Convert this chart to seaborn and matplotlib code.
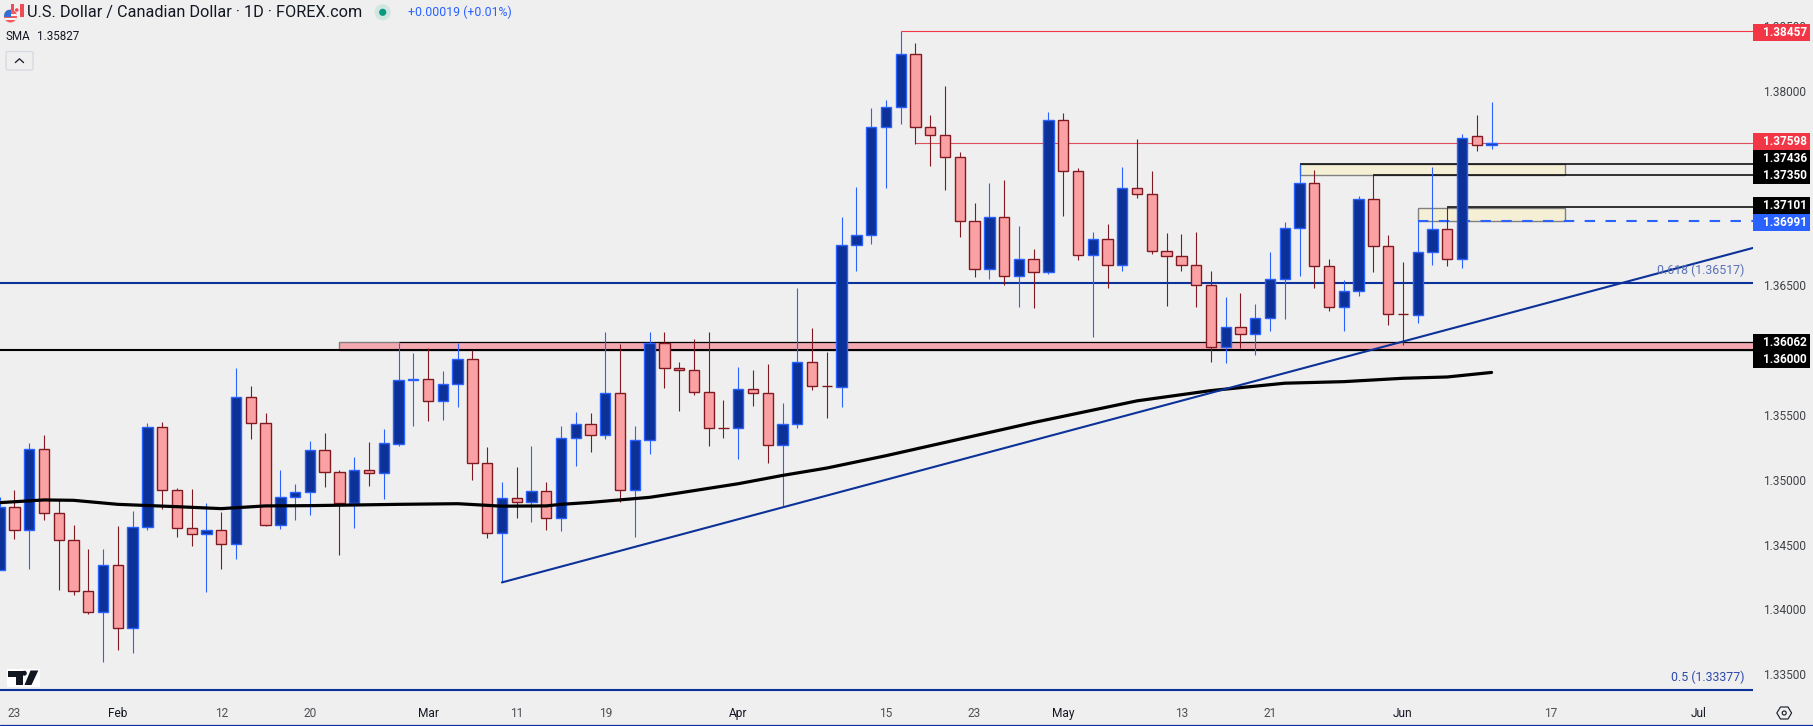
"""USD/CAD daily candles with SMA, trendline and marked levels."""

import matplotlib
matplotlib.use("Agg")
import matplotlib.pyplot as plt
from matplotlib.patches import Circle, FancyBboxPatch, Polygon, Rectangle
import pandas as pd
import seaborn as sns

# --- Data ---

opens = [1.34305, 1.3479, 1.34613, 1.35236, 1.34744, 1.34536, 1.34144, 1.33982, 1.34344, 1.33856,
         1.34636, 1.35405, 1.34921, 1.34628, 1.34582, 1.34613, 1.34505, 1.35636, 1.35436, 1.34652,
         1.34867, 1.34905, 1.35228, 1.35059, 1.34821, 1.35075, 1.35052, 1.35279, 1.35767, 1.35779,
         1.35605, 1.35736, 1.35928, 1.35128, 1.3459, 1.34859, 1.34825, 1.34913, 1.34705, 1.35321,
         1.35428, 1.35344, 1.35667, 1.34921, 1.35305, 1.36052, 1.35859, 1.35844, 1.35675, 1.354,
         1.35398, 1.35698, 1.35667, 1.35267, 1.35428, 1.35905, 1.35722, 1.35712, 1.36813, 1.3689,
         1.37721, 1.37875, 1.38282, 1.37721, 1.37659, 1.3749, 1.36998, 1.36628, 1.37028, 1.36567,
         1.36705, 1.36605, 1.37775, 1.37382, 1.36736, 1.36852, 1.36652, 1.37252, 1.37205, 1.36767,
         1.36721, 1.36659, 1.36505, 1.36021, 1.36175, 1.36121, 1.36244, 1.36544, 1.36944, 1.3729,
         1.36644, 1.36328, 1.36452, 1.37167, 1.36798, 1.36276, 1.36267, 1.36752, 1.36936, 1.36698,
         1.37652, 1.37579]
highs = [1.34869, 1.34923, 1.35285, 1.35346, 1.34841, 1.34654, 1.34469, 1.34469, 1.34646, 1.34762,
         1.35438, 1.35446, 1.34936, 1.34931, 1.34823, 1.34754, 1.35862, 1.35723, 1.35515, 1.35077,
         1.34969, 1.353, 1.35362, 1.35075, 1.35177, 1.35292, 1.35392, 1.36056, 1.35977, 1.36013,
         1.35838, 1.36056, 1.36, 1.35254, 1.34985, 1.351, 1.35262, 1.34985, 1.35415, 1.35523,
         1.35515, 1.36138, 1.36046, 1.35415, 1.36138, 1.36138, 1.35908, 1.36085, 1.36138, 1.35615,
         1.35869, 1.35846, 1.35892, 1.35592, 1.36477, 1.36169, 1.35985, 1.37023, 1.37254, 1.37869,
         1.37931, 1.38457, 1.38369, 1.37815, 1.38038, 1.37528, 1.37136, 1.37285, 1.37308, 1.36954,
         1.36775, 1.37838, 1.37831, 1.37405, 1.36913, 1.36969, 1.37408, 1.37623, 1.37377, 1.369,
         1.36892, 1.36908, 1.36608, 1.36408, 1.36438, 1.36354, 1.36754, 1.36985, 1.37436, 1.37385,
         1.36705, 1.36536, 1.3719, 1.3735, 1.3689, 1.36682, 1.36991, 1.37413, 1.37101, 1.37669,
         1.37815, 1.37915]
lows = [1.34305, 1.34541, 1.3431, 1.34687, 1.34146, 1.3411, 1.33964, 1.33595, 1.33687, 1.33664,
        1.3461, 1.34772, 1.34556, 1.34487, 1.34138, 1.3431, 1.34387, 1.35315, 1.34641, 1.34618,
        1.34687, 1.34725, 1.34946, 1.34418, 1.34625, 1.34954, 1.34848, 1.35256, 1.35415, 1.35456,
        1.35462, 1.35562, 1.34995, 1.34548, 1.34208, 1.34702, 1.34672, 1.34615, 1.34602, 1.35102,
        1.3521, 1.3531, 1.34828, 1.34562, 1.35202, 1.3571, 1.35533, 1.35656, 1.35256, 1.35325,
        1.35156, 1.35572, 1.35125, 1.34792, 1.35402, 1.35692, 1.35472, 1.35562, 1.3661, 1.36818,
        1.37248, 1.37741, 1.3759, 1.37418, 1.37233, 1.36872, 1.36564, 1.36548, 1.36502, 1.36333,
        1.36325, 1.36587, 1.37033, 1.36695, 1.36102, 1.36479, 1.3661, 1.37172, 1.36741, 1.36341,
        1.3661, 1.36333, 1.3591, 1.35902, 1.36018, 1.35964, 1.36148, 1.36241, 1.36572, 1.36479,
        1.36302, 1.36148, 1.36418, 1.36602, 1.36195, 1.36036, 1.3621, 1.36659, 1.36644, 1.36633,
        1.37538, 1.37546]
closes = [1.34792, 1.34613, 1.35236, 1.34744, 1.34536, 1.34141, 1.33982, 1.34344, 1.33856, 1.34636,
          1.35405, 1.34921, 1.34628, 1.34582, 1.34613, 1.34505, 1.35636, 1.35436, 1.34648, 1.34867,
          1.34905, 1.35228, 1.35059, 1.34821, 1.35075, 1.35052, 1.35282, 1.35767, 1.35779, 1.35605,
          1.35736, 1.35928, 1.35128, 1.3459, 1.34859, 1.34825, 1.34913, 1.34705, 1.35321, 1.35428,
          1.35344, 1.35667, 1.34921, 1.35305, 1.36052, 1.35859, 1.35844, 1.35675, 1.35398, 1.35398,
          1.35698, 1.35667, 1.35267, 1.35428, 1.35905, 1.35721, 1.3572, 1.36813, 1.3689, 1.37721,
          1.37875, 1.38282, 1.37721, 1.37659, 1.3749, 1.36998, 1.36628, 1.37028, 1.36567, 1.36705,
          1.36605, 1.37775, 1.37382, 1.36736, 1.36852, 1.36652, 1.37252, 1.37205, 1.36767, 1.36721,
          1.36659, 1.36505, 1.36021, 1.36175, 1.36121, 1.36244, 1.36544, 1.36944, 1.3729, 1.36644,
          1.36328, 1.36452, 1.37167, 1.36798, 1.36275, 1.36274, 1.36752, 1.36936, 1.36698, 1.37636,
          1.37582, 1.37598]

sma_idx = [0, 3, 5, 8, 12, 15, 18, 21, 27, 31, 34, 37, 38, 40, 44, 46, 50, 53, 56, 60, 65, 70, 77,
           82, 87, 91, 95, 98, 101]
sma_val = [1.34823, 1.34844, 1.34841, 1.3481, 1.34792, 1.34777, 1.34798, 1.348, 1.3481, 1.34815,
           1.34796, 1.34798, 1.3481, 1.34825, 1.34864, 1.34898, 1.34969, 1.35033, 1.3509, 1.35185,
           1.35313, 1.35441, 1.35608, 1.35687, 1.35744, 1.35756, 1.35782, 1.35792, 1.35827]

trend_idx = [34, 118.7]
trend_val = [1.34208, 1.36787]

# (price, first candle) for the lines that run out to the price axis
black_thin = (1.36062, 27)
black_levels = [(1.37436, 88), (1.3735, 93), (1.37101, 98)]
red_levels = [(1.38457, 61), (1.37598, 62)]
support = 1.36
fib_levels = [1.36517, 1.33377]
fib_text = ["0.618 (1.36517)", "0.5 (1.33377)"]
dashed_level = (1.36991, 96)

zone_pink = (23, 1.36, 1.36062)
zones_yellow = [(88, 106, 1.3735, 1.37436), (96, 106, 1.36991, 1.37092)]

# 1.36, 1.37 and 1.375 sit under the price tags, so they are left out
price_ticks = [1.335, 1.34, 1.345, 1.35, 1.355, 1.365, 1.38, 1.385]
date_pos = [1, 8, 15, 21, 29, 35, 41, 50, 60, 66, 72, 80, 86, 95, 105, 115]
date_labels = ["23", "Feb", "12", "20", "Mar", "11", "19", "Apr", "15", "23", "May", "13", "21",
               "Jun", "17", "Jul"]
months = {"Feb", "Mar", "Apr", "May", "Jun", "Jul"}

# price tag text, tag colour, top pixel row, text pixel row
tags = [("1.38457", "#f23645", 24, 32.3), ("1.37598", "#f23645", 133.3, 141.7),
        ("1.37436", "#000000", 150, 158.3), ("1.37350", "#000000", 167, 175.7),
        ("1.37101", "#000000", 197.3, 205.7), ("1.36991", "#2962ff", 214, 222.7),
        ("1.36062", "#000000", 334.3, 342.3), ("1.36000", "#000000", 351, 359.3)]

# --- Style ---

BG = "#efefef"
UP_FILL = "#0c3299"
UP_LINE = "#2962ff"
DOWN_FILL = "#faa1a4"
DOWN_LINE = "#801922"
LEVEL_BLUE = "#0c3299"
W, H = 1813, 726
PLOT_W, PLOT_H = 1753, 697

sns.set_theme(style="white")
plt.rcParams["font.family"] = ["Roboto", "DejaVu Sans"]

fig = plt.figure(figsize=(W / 100, H / 100), dpi=100, facecolor=BG)
ax = fig.add_axes([0, 1 - PLOT_H / H, PLOT_W / W, PLOT_H / H], facecolor=BG)

df = pd.DataFrame({"i": range(len(opens)), "open": opens, "high": highs, "low": lows, "close": closes})
df["up"] = df["close"] >= df["open"]
df["top"] = df[["open", "close"]].max(axis=1)
df["bottom"] = df[["open", "close"]].min(axis=1)

# --- Zones and levels, under the candles ---

left, y0, y1 = zone_pink
ax.add_patch(Rectangle((left, y0), 200, y1 - y0, facecolor="#f4a9b1", edgecolor="#808080", lw=1, zorder=1))
for x0, x1, low, high in zones_yellow:
    ax.add_patch(Rectangle((x0, low), x1 - x0, high - low, facecolor="#f5f0d5", edgecolor="#808080", lw=1, zorder=1))

ax.axhline(support, color="black", lw=1.5, zorder=1.5)
ax.hlines(black_thin[0], black_thin[1], 130, color="black", lw=0.8, zorder=1.5)
for price, start in black_levels:
    ax.hlines(price, start, 130, color="#111111", lw=1.2, zorder=1.5)
ax.hlines(red_levels[0][0], red_levels[0][1], 130, color="#f23645", lw=0.8, zorder=1.5)
ax.hlines(red_levels[1][0], red_levels[1][1], 130, color="#dd4f5b", lw=0.8, zorder=1.5)
for price in fib_levels:
    ax.axhline(price, color=LEVEL_BLUE, lw=1.5, zorder=1.5)
ax.hlines(dashed_level[0], dashed_level[1], 130, color=UP_LINE, lw=1.5, linestyles=(0, (5, 5)), zorder=1.6)

# --- Candles ---

for up, part in df.groupby("up"):
    wick = UP_LINE if up else DOWN_LINE
    fill = UP_FILL if up else DOWN_FILL
    ax.vlines(part["i"], part["low"], part["high"], color=wick, lw=0.8, zorder=2)
    ax.bar(part["i"], part["top"] - part["bottom"], bottom=part["bottom"], width=0.7,
           color=fill, edgecolor=wick, linewidth=1.0, zorder=3)

# --- SMA and trendline ---

sns.lineplot(x=sma_idx, y=sma_val, ax=ax, color="black", lw=2.3, estimator=None, errorbar=None, zorder=4)
sns.lineplot(x=trend_idx, y=trend_val, ax=ax, color=LEVEL_BLUE, lw=1.5, estimator=None, errorbar=None, zorder=5)

# --- Axes ---

ax.set_xlim(0.02, 118.7)
ax.set_ylim(1.36 - (PLOT_H - 350) / 12970, 1.36 + 350 / 12970)
ax.yaxis.tick_right()
ax.set_yticks(price_ticks)
ax.set_yticklabels([f"{p:.5f}" for p in price_ticks])
ax.set_xticks(date_pos)
ax.set_xticklabels(date_labels)
ax.tick_params(axis="y", length=0, pad=7, labelsize=8.6, labelcolor="#3f4247")
ax.tick_params(axis="x", length=0, pad=7, labelsize=8.6, labelcolor="#4c4f55")
for lab in ax.get_xticklabels():
    if lab.get_text() in months:
        lab.set_color("#131722")
for spine in ax.spines.values():
    spine.set_visible(False)
ax.set_xlabel("")
ax.set_ylabel("")

# --- Pixel overlay for header, price tags and icons ---

over = fig.add_axes([0, 0, 1, 1], facecolor="none", zorder=10)
over.set_xlim(0, W)
over.set_ylim(H, 0)
over.axis("off")

over.text(27, 12.7, "U.S. Dollar / Canadian Dollar · 1D · FOREX.com", fontsize=11.7, color="#131722", va="center")
over.text(408, 12.7, "+0.00019 (+0.01%)", fontsize=8.9, color=UP_LINE, va="center")
over.text(5, 36.7, "SMA", fontsize=8.4, color="#131722", va="center")
over.text(37, 36.7, "1.35827", fontsize=8.4, color="#131722", va="center")

over.add_patch(Circle((382.7, 12.3), 8, facecolor="#cfe6e1", edgecolor="none"))
over.add_patch(Circle((382.7, 12.3), 3.6, facecolor="#089981", edgecolor="none"))

# flags
over.add_patch(Circle((17, 10), 6.5, facecolor="#f0f0f0", edgecolor="none"))
over.add_patch(Rectangle((10.5, 3.5), 3.2, 13, facecolor="#f04a55", edgecolor="none"))
over.add_patch(Rectangle((20.3, 3.5), 3.2, 13, facecolor="#f04a55", edgecolor="none"))
over.add_patch(Circle((16.8, 10), 1.8, facecolor="#f04a55", edgecolor="none"))
us = Circle((10.5, 16), 6.5, facecolor="#f25b5b", edgecolor="none")
over.add_patch(us)
over.add_patch(Rectangle((4, 14), 13, 2.2, facecolor="#f5f5f5", edgecolor="none", clip_path=us))
over.add_patch(Rectangle((4, 18), 13, 1.6, facecolor="#f5f5f5", edgecolor="none", clip_path=us))
over.add_patch(Rectangle((4, 10), 6.5, 7, facecolor="#2f6fd8", edgecolor="none", clip_path=us))

# collapse button
over.add_patch(FancyBboxPatch((6, 51.5), 27, 18.5, boxstyle="round,pad=0,rounding_size=2",
                              facecolor=BG, edgecolor="#d6d8e2", lw=0.9))
over.plot([15.3, 19.4, 23.6], [62.6, 58.8, 62.6], color="#131722", lw=0.9)

# price tags
for text, colour, top, mid in tags:
    over.add_patch(Rectangle((PLOT_W, top), 57, 16.9, facecolor=colour, edgecolor="none"))
    over.text(PLOT_W + 9.5, mid, text, color="white", fontsize=8.5, fontweight="bold", va="center")
over.text(1744.7, 270.3, fib_text[0], color="#5a72b8", fontsize=8.9, ha="right", va="center", zorder=0)
over.text(1744.7, 677.7, fib_text[1], color="#2d4bab", fontsize=8.9, ha="right", va="center")

# bottom rule
over.plot([0, W], [724.8, 724.8], color=LEVEL_BLUE, lw=0.9)

# TradingView mark
over.add_patch(Rectangle((6.5, 669), 33.5, 17.5, facecolor="white", edgecolor="none"))
over.add_patch(Polygon([(8, 670.5), (23.3, 670.5), (23.3, 685), (15.5, 685), (15.5, 676.5), (8, 676.5)],
                       facecolor="#131722", edgecolor="none"))
over.add_patch(Circle((24.3, 673.2), 2.5, facecolor="#131722", edgecolor="none"))
over.add_patch(Polygon([(30.5, 670.5), (38.3, 670.5), (31.5, 685), (24.5, 685)], facecolor="#131722", edgecolor="none"))

# settings hexagon
over.add_patch(Polygon([(1776.8, 713), (1780.5, 707), (1788, 707), (1791.6, 713), (1788, 719), (1780.5, 719)],
                       facecolor="none", edgecolor="#131722", lw=0.8))
over.add_patch(Circle((1784.2, 713), 2, facecolor="none", edgecolor="#131722", lw=0.8))

fig.savefig("out.png", dpi=100, facecolor=BG)
